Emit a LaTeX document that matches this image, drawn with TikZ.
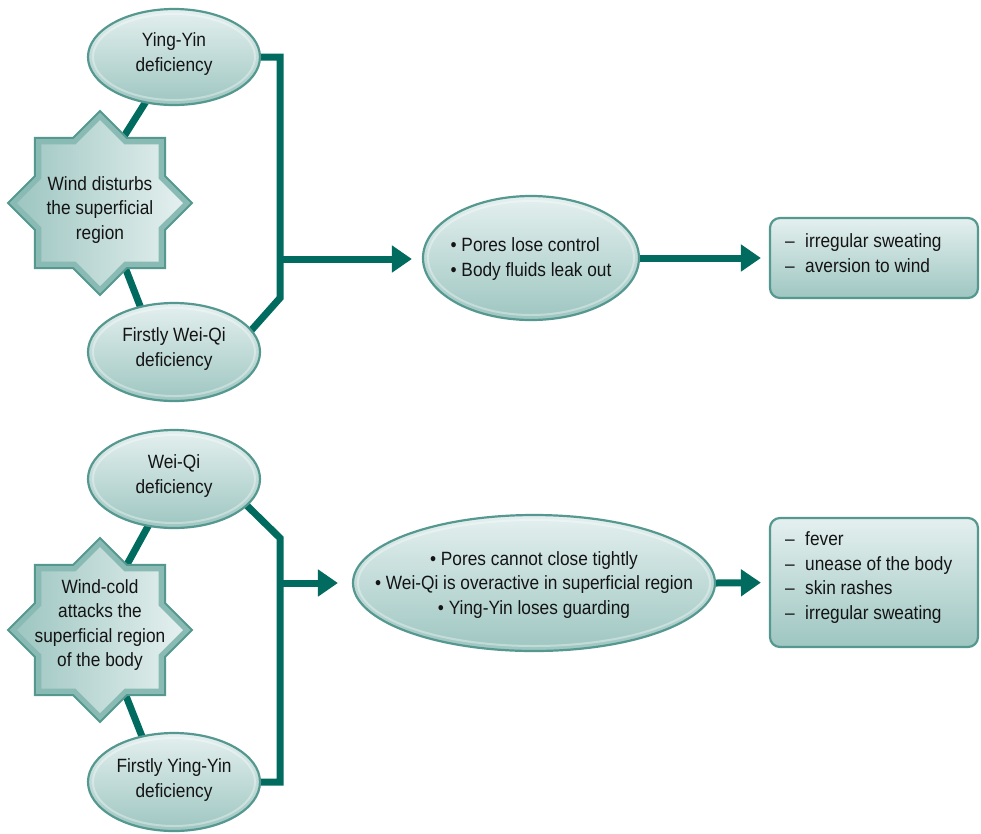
\documentclass[tikz,border=0pt]{standalone}
\usepackage{fontspec}
\setmainfont{Liberation Sans}[FakeStretch=0.9]
\usetikzlibrary{shapes.geometric,arrows.meta,backgrounds,calc}

\definecolor{linkteal}{RGB}{0,107,94}
\definecolor{rimteal}{RGB}{84,152,144}
\definecolor{paleteal}{RGB}{228,240,239}
\definecolor{deepteal}{RGB}{158,198,193}
\definecolor{bevelteal}{RGB}{138,186,180}

\newcommand{\dashitem}[1]{\makebox[20pt][l]{\textendash}#1}

\tikzset{
  x=1pt, y=-1pt,
  txt/.style={font=\fontsize{19.2}{24.5}\selectfont, text=black!92, align=center, inner sep=0pt},
  oval/.style={ellipse, draw=rimteal, line width=2.2pt, top color=paleteal, bottom color=deepteal, inner sep=0pt},
  starouter/.style={star, star points=8, star point ratio=1.307, minimum size=184pt, inner sep=0pt,
                    draw=rimteal, line width=2pt, fill=bevelteal},
  starinner/.style={star, star points=8, star point ratio=1.307, minimum size=166pt, inner sep=0pt,
                    left color=deepteal, right color=paleteal},
  listbox/.style={rectangle, rounded corners=10pt, draw=rimteal, line width=2.2pt,
                  top color=paleteal, bottom color=deepteal, minimum width=208pt, inner sep=0pt},
  conn/.style={draw=linkteal, line width=7pt},
  connarrow/.style={conn, -{Triangle[length=20pt,width=26pt]}},
  sheen/.style={draw=white, opacity=0.35, line width=2pt},
}

\begin{document}
\begin{tikzpicture}
\useasboundingbox (0,0) rectangle (981,833);

% ---------- upper chain: wind disturbs the superficial region ----------
\node[oval, minimum width=172pt, minimum height=96pt] (yy1) at (174,57) {};
\draw[sheen] (yy1.center) ellipse [x radius=81, y radius=43];
\node[txt] (yy1t) at (174,54) {Ying-Yin\\deficiency};

\node[starouter] (st1o) at (100,203) {};
\node[starinner] (st1) at (100,203) {};
\node[txt] (st1t) at (100,210) {Wind disturbs\\the superficial\\region};

\node[oval, minimum width=172pt, minimum height=98pt] (wq1) at (174,352) {};
\draw[sheen] (wq1.center) ellipse [x radius=81, y radius=44];
\node[txt] (wq1t) at (174,349) {Firstly Wei-Qi\\deficiency};

\node[oval, minimum width=216pt, minimum height=124pt] (mid1) at (531,258) {};
\draw[sheen] (mid1.center) ellipse [x radius=103, y radius=57];
\node[txt, align=left] (mid1t) at (531,259) {\textbullet\ Pores lose control\\\textbullet\ Body fluids leak out};

\node[listbox, minimum height=80pt] (box1) at (874,258) {};
\node[txt, align=left, anchor=west] (box1t) at (785,253)
  {\dashitem{irregular sweating}\\\dashitem{aversion to wind}};

% ---------- lower chain: wind-cold attacks the superficial region ----------
\node[oval, minimum width=172pt, minimum height=98pt] (wq2) at (174,479) {};
\draw[sheen] (wq2.center) ellipse [x radius=81, y radius=44];
\node[txt] (wq2t) at (174,476) {Wei-Qi\\deficiency};

\node[starouter] (st2o) at (100,630) {};
\node[starinner] (st2) at (100,630) {};
\node[txt] (st2t) at (100,625) {Wind-cold\\attacks the\\superficial region\\of the body};

\node[oval, minimum width=172pt, minimum height=98pt] (yy2) at (174,782) {};
\draw[sheen] (yy2.center) ellipse [x radius=81, y radius=44];
\node[txt] (yy2t) at (174,780) {Firstly Ying-Yin\\deficiency};

\node[oval, minimum width=362pt, minimum height=136pt] (mid2) at (534,583) {};
\draw[sheen] (mid2.center) ellipse [x radius=176, y radius=63];
\node[txt] (mid2t) at (534,585) {\textbullet\ Pores cannot close tightly\\
  \textbullet\ Wei-Qi is overactive in superficial region\\
  \textbullet\ Ying-Yin loses guarding};

\node[listbox, minimum height=129pt] (box2) at (874,582.5) {};
\node[txt, align=left, anchor=west] (box2t) at (785,577.5)
  {\dashitem{fever}\\\dashitem{unease of the body}\\\dashitem{skin rashes}\\\dashitem{irregular sweating}};

% ---------- connectors, kept behind the shapes ----------
\begin{scope}[on background layer]
  % upper chain
  \draw[conn] (yy1.center) -- ($(st1.center)+(-18,0)$);
  \draw[conn] (st1.center) -- ($(wq1.center)+(-16,0)$);
  \coordinate (top1) at (280,57);
  \coordinate (bend1) at (280,298);
  \coordinate (fork1) at (280,259);
  \draw[conn, line join=miter] (yy1.center) -- (top1) -- (bend1) -- ($(wq1.center)+(66,-9)$);
  % lower chain
  \draw[conn] (wq2.center) -- ($(st2.center)+(-9,0)$);
  \draw[conn] (st2.center) -- ($(yy2.center)+(-14,0)$);
  \coordinate (bend2) at (280,538);
  \coordinate (foot2) at (280,782);
  \coordinate (fork2) at (280,583);
  \draw[conn, line join=miter] ($(wq2.center)+(56,10)$) -- (bend2) -- (foot2) -- (yy2.center);
\end{scope}

\draw[connarrow, shorten >=10pt] (fork1) -- (fork1 -| mid1.west);
\draw[connarrow, shorten >=8pt] (mid1.east) -- (box1.west);
\draw[connarrow, shorten >=14pt] (fork2) -- (fork2 -| mid2.west);
\draw[connarrow, shorten >=8pt] (mid2.east) -- (box2.west);
\end{tikzpicture}
\end{document}
